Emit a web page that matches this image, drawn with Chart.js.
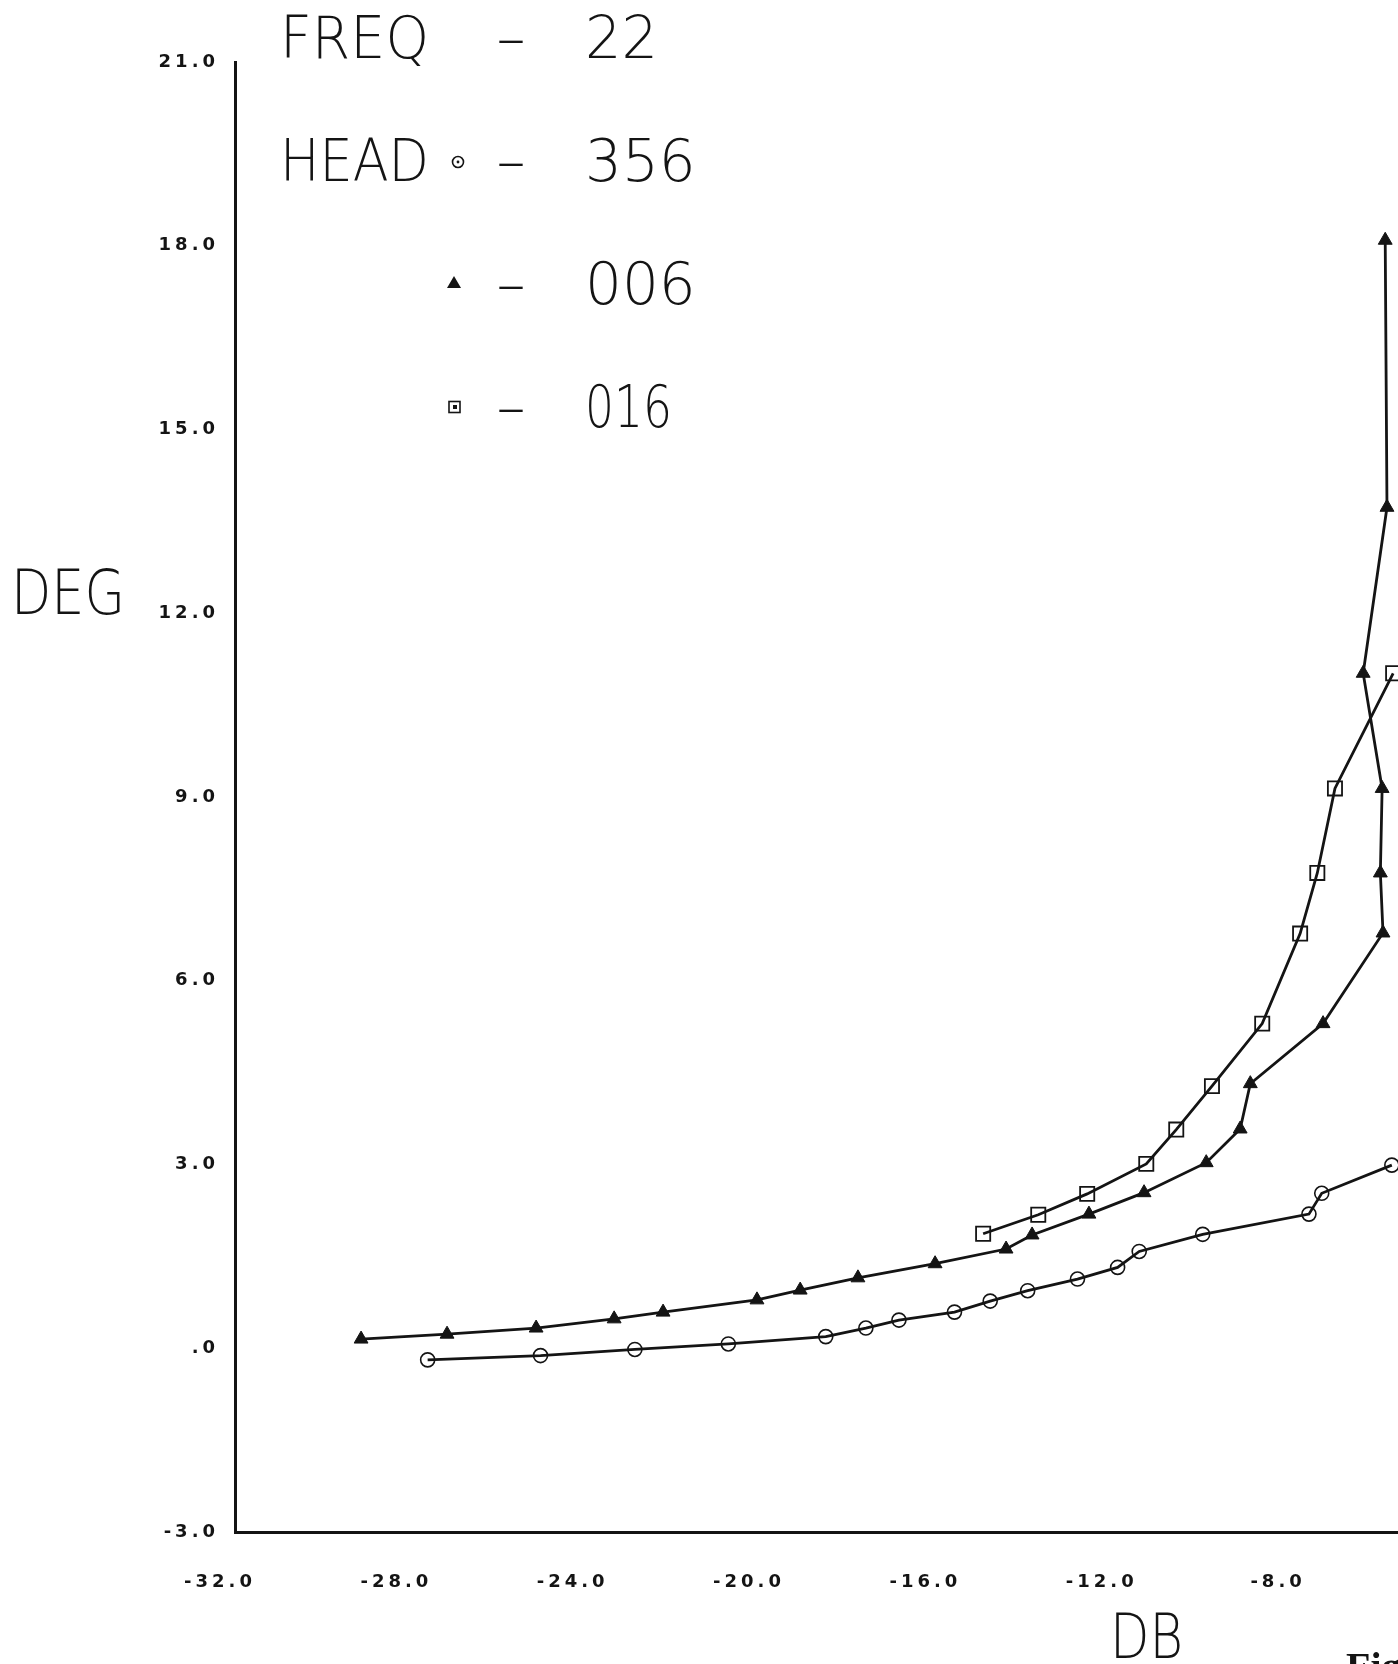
<!DOCTYPE html>
<html>
<head>
<meta charset="utf-8">
<script src="https://cdn.jsdelivr.net/npm/chart.js@4.4.0/dist/chart.umd.min.js"></script>
<style>
  html, body { margin: 0; padding: 0; background: #ffffff; overflow: hidden; }
  #wrap { position: relative; width: 1398px; height: 1664px; }
  canvas { display: block; }
</style>
</head>
<body>
<div id="wrap"><canvas id="c" width="1398" height="1664"></canvas></div>
<script>
// ---- data (x = DB, y = DEG) ----
const head356DB  = [-27.63,-25.07,-22.93,-20.81,-18.60,-17.69,-16.94,-15.68,-14.87,-14.02,-12.89,-11.98,-11.49,-10.05,-7.64,-7.35,-5.76];
const head356DEG = [-0.19,-0.12,-0.02,0.07,0.19,0.33,0.46,0.59,0.77,0.94,1.13,1.32,1.58,1.86,2.19,2.53,2.99];

const head006DB  = [-29.14,-27.19,-25.17,-23.40,-22.29,-20.16,-19.18,-17.87,-16.12,-14.51,-13.92,-12.63,-11.38,-9.97,-9.20,-8.97,-7.32,-5.96,-6.02,-5.98,-6.41,-5.87,-5.91];
const head006DEG = [0.15,0.23,0.33,0.48,0.59,0.79,0.95,1.15,1.38,1.62,1.85,2.19,2.54,3.03,3.58,4.32,5.30,6.78,7.76,9.14,11.02,13.73,18.09];

const head016DB  = [-15.03,-13.78,-12.67,-11.33,-10.65,-9.84,-8.70,-7.84,-7.45,-7.05,-5.73];
const head016DEG = [1.87,2.18,2.52,3.01,3.57,4.28,5.30,6.77,7.76,9.14,11.02];

const xTickValues = [-32,-28,-24,-20,-16,-12,-8];
const xTickLabels = ['-32.0','-28.0','-24.0','-20.0','-16.0','-12.0','-8.0'];
const yTickValues = [-3,0,3,6,9,12,15,18,21];
const yTickLabels = ['-3.0','.0','3.0','6.0','9.0','12.0','15.0','18.0','21.0'];

const xMin = -32, xMax = -5.62, yMin = -3, yMax = 21;

const legendTitle = 'FREQ', legendFreq = '22', legendHead = 'HEAD';
const headLabels = ['356','006','016'];
const yTitle = 'DEG', xTitle = 'DB', figText = 'Fig';

function pts(xs, ys) { return xs.map((x, i) => ({ x: x, y: ys[i] })); }

const INK = '#141414';

const textPlugin = {
  id: 'plotterText',
  beforeDraw(chart) {
    chart.ctx.letterSpacing = '4px';
  },
  afterDraw(chart) {
    const ctx = chart.ctx;
    ctx.save();
    ctx.letterSpacing = '0px';
    ctx.fillStyle = INK;
    ctx.strokeStyle = INK;
    ctx.textAlign = 'left';
    ctx.textBaseline = 'alphabetic';
    const big = '200 58px "DejaVu Sans", "Inter"';
    ctx.font = big;
    // FREQ - 22
    ctx.fillText(legendTitle, 280, 58, 149);
    ctx.textAlign = 'center';
    ctx.fillText('\u2013', 511, 58);
    ctx.textAlign = 'left';
    ctx.fillText(legendFreq, 585, 58, 73);
    // HEAD rows
    ctx.fillText(legendHead, 280, 181, 149);
    const rowBase = [181, 304, 427];
    const rowW = [116, 116, 87];
    const markY = [162, 283, 407];
    for (let i = 0; i < 3; i++) {
      ctx.textAlign = 'center';
      ctx.fillText('\u2013', 511, rowBase[i]);
      ctx.textAlign = 'left';
      ctx.fillText(headLabels[i], 585, rowBase[i], rowW[i]);
    }
    // legend markers
    ctx.lineWidth = 1.6;
    ctx.beginPath(); ctx.arc(458, markY[0], 5.5, 0, Math.PI * 2); ctx.stroke();
    ctx.beginPath(); ctx.arc(458, markY[0], 1.4, 0, Math.PI * 2); ctx.fill();
    ctx.beginPath();
    ctx.moveTo(454, markY[1] - 7); ctx.lineTo(461, markY[1] + 5); ctx.lineTo(447, markY[1] + 5); ctx.closePath(); ctx.fill();
    ctx.strokeRect(449, markY[2] - 5.5, 11, 11);
    ctx.fillRect(453, markY[2] - 2, 4, 4);
    // axis titles
    ctx.font = '200 63px "DejaVu Sans", "Inter"';
    ctx.fillText(yTitle, 11, 614, 114);
    ctx.fillText(xTitle, 1110, 1658, 73);
    // partial caption at the bottom edge
    ctx.font = 'bold 40px "Liberation Serif"';
    ctx.fillText(figText, 1346, 1680);
    ctx.restore();
  }
};

new Chart(document.getElementById('c'), {
  type: 'scatter',
  data: {
    datasets: [
      {
        label: '356', data: pts(head356DB, head356DEG), showLine: true,
        borderColor: INK, borderWidth: 2.8, pointStyle: 'circle', pointRadius: 7,
        pointBorderWidth: 1.6, pointBackgroundColor: 'rgba(0,0,0,0)', pointBorderColor: INK, clip: false
      },
      {
        label: '006', data: pts(head006DB, head006DEG), showLine: true,
        borderColor: INK, borderWidth: 2.8, pointStyle: 'triangle', pointRadius: 8,
        pointBorderWidth: 1, pointBackgroundColor: INK, pointBorderColor: INK, clip: false
      },
      {
        label: '016', data: pts(head016DB, head016DEG), showLine: true,
        borderColor: INK, borderWidth: 2.8, pointStyle: 'rect', pointRadius: 10,
        pointBorderWidth: 1.8, pointBackgroundColor: 'rgba(0,0,0,0)', pointBorderColor: INK, clip: false
      }
    ]
  },
  options: {
    responsive: false,
    animation: false,
    devicePixelRatio: 1,
    layout: { autoPadding: false, padding: { top: 62, left: 0, right: 0, bottom: 0 } },
    plugins: { legend: { display: false }, tooltip: { enabled: false } },
    elements: { line: { tension: 0 } },
    scales: {
      x: {
        type: 'linear', min: xMin, max: xMax,
        afterFit(s) { s.height = 132; s.paddingLeft = 0; s.paddingRight = 0; },
        afterBuildTicks(s) { s.ticks = xTickValues.map(v => ({ value: v })); },
        grid: { display: true, color: 'rgba(0,0,0,0)', drawTicks: false },
        border: { display: true, color: INK, width: 3 },
        ticks: {
          padding: 40, labelOffset: -15, maxRotation: 0, autoSkip: false, color: INK,
          font: { family: '"DejaVu Sans"', size: 18, weight: 'bold' },
          callback: (v) => { const i = xTickValues.indexOf(v); return i >= 0 ? xTickLabels[i] : ''; }
        }
      },
      y: {
        type: 'linear', min: yMin, max: yMax,
        afterFit(s) { s.width = 235; s.paddingTop = 0; s.paddingBottom = 0; },
        afterBuildTicks(s) { s.ticks = yTickValues.map(v => ({ value: v })); },
        grid: { display: true, color: 'rgba(0,0,0,0)', drawTicks: false },
        border: { display: true, color: INK, width: 3 },
        ticks: {
          padding: 16, autoSkip: false, color: INK,
          font: { family: '"DejaVu Sans"', size: 18, weight: 'bold' },
          callback: (v) => { const i = yTickValues.indexOf(v); return i >= 0 ? yTickLabels[i] : ''; }
        }
      }
    }
  },
  plugins: [textPlugin]
});
</script>
</body>
</html>
